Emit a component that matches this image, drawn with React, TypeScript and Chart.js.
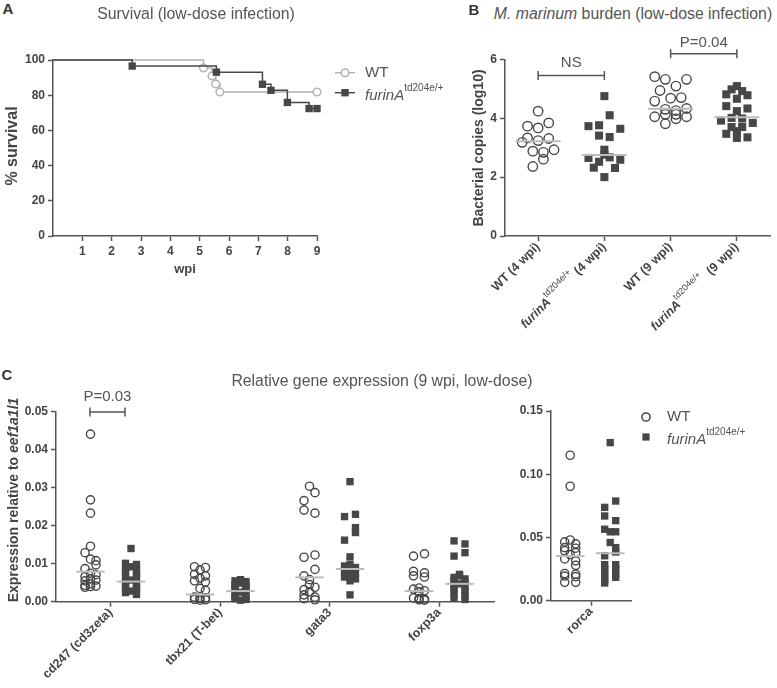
import React, { useEffect, useRef } from 'react';
import { Chart, registerables } from 'chart.js';
Chart.register(...registerables);

const FONT = '"Liberation Sans", Arial, Helvetica, sans-serif';
Chart.defaults.font.family = FONT;
Chart.defaults.color = '#444';

const INK = '#474747';
const AXIS_C = '#555555';
const WT_LINE = '#b3b3b3';
const MEDIAN_C = '#bcbcbc';
const TEXT_C = '#444444';
const SOFT_TEXT = '#555555';

// ---------------- Panel A: survival ----------------
const survivalWeekTicks = [1, 2, 3, 4, 5, 6, 7, 8, 9];
const wtWeeks = [0, 5.13, 5.42, 5.55, 5.69, 9.0];
const wtSurvival = [100, 95.45, 90.91, 86.36, 81.82, 81.82];
const furinWeeks = [0, 2.7, 5.57, 7.14, 7.43, 7.99, 8.73, 9.0];
const furinSurvival = [100, 96.55, 93.1, 86.21, 82.76, 75.86, 72.41, 72.41];

// ---------------- Panel B: bacterial burden ----------------
const burdenCategories = ['WT (4 wpi)', '_furinA_^{td204e/+} (4 wpi)', 'WT (9 wpi)', '_furinA_^{td204e/+}  (9 wpi)'];
const wt4wpi = [4.24, 3.73, 3.67, 3.84, 3.33, 3.24, 3.31, 3.18, 2.88, 2.93, 2.84, 2.61, 2.36];
const wt4wpiLanes = [0, -2, 0, 2, -2, 0, 2, -3, -1, 3, 1, 1, -1];
const furin4wpi = [4.75, 4.1, 3.73, 3.76, 3.64, 3.41, 3.36, 2.93, 2.76, 2.65, 2.52, 2.67, 2.59, 2.32, 2.31, 2.0];
const furin4wpiLanes = [0, 1, -3, -1, 3, -1, 1, 0, 0, -3, -1, 1, 3, -2, 2, 0];
const wt9wpi = [5.41, 5.32, 5.32, 4.94, 5.09, 4.58, 4.68, 4.7, 4.3, 4.26, 4.33, 4.05, 4.13, 4.13, 3.98, 4.05, 3.81];
const wt9wpiLanes = [-3, -1, 3, -2, 1, -3, 0, 2, -1, 1, 3, -3, -1, 1, 1, 3, -1];
const furin9wpi = [5.09, 4.98, 4.92, 4.81, 4.78, 4.66, 4.41, 4.24, 4.33, 4.01, 3.92, 3.99, 3.84, 3.7, 3.7, 3.56, 3.47, 3.35, 3.33];
const furin9wpiLanes = [0, -1, 1, -2, 2, 0, -2, 0, 2, -1, -3, 1, 3, -1, 1, 0, -2, 2, 0];
const burdenMedians = [3.22, 2.75, 4.32, 4.03];
const burdenBrackets = [
  { from: 0, to: 1, y: 5.45, label: 'NS', dy: 13 },
  { from: 2, to: 3, y: 6.19, label: 'P=0.04', dy: 11 },
];

// ---------------- Panel C: gene expression ----------------
const geneCategories = ['cd247 (cd3zeta)', 'tbx21 (T-bet)', 'gata3', 'foxp3a'];
const cd247WT = [0.0441, 0.0268, 0.0233, 0.0146, 0.0129, 0.0112, 0.0108, 0.0097, 0.0087, 0.0075, 0.0071, 0.0066, 0.006, 0.0057, 0.0055, 0.0047, 0.0043, 0.0041, 0.004, 0.0038];
const cd247WTLanes = [0, 0, 0, 0, -1, 0, 1, 1, -1, 0, 1, -1, 0, 1, -1, 0, -1, 1, 0, -1];
const cd247Furin = [0.014, 0.0101, 0.0098, 0.0092, 0.0088, 0.0082, 0.0077, 0.0072, 0.0066, 0.0062, 0.0057, 0.0053, 0.0049, 0.0045, 0.0041, 0.0036, 0.0032, 0.0028, 0.0024, 0.0019];
const cd247FurinLanes = [0, -1, 1, 0, -1, 1, -1, 1, -1, 1, 0, -1, 1, -1, 1, -1, 1, 0, -1, 1];
const tbx21WT = [0.0092, 0.009, 0.0084, 0.0072, 0.0068, 0.0062, 0.0055, 0.0052, 0.0035, 0.003, 0.0012, 0.001, 0.0009, 0.0006, 0.0005, 0.0004];
const tbx21WTLanes = [-1, 1, 0, -1, 1, 0, -1, 1, 0, 1, -1, 1, 0, -1, 1, 0];
const tbx21Furin = [0.0058, 0.0055, 0.0053, 0.0049, 0.0046, 0.0043, 0.004, 0.0037, 0.0034, 0.0031, 0.0025, 0.0018, 0.0015, 0.0012, 0.001, 0.0008, 0.0006, 0.0004];
const tbx21FurinLanes = [0, -1, 1, 0, -1, 1, -1, 1, -1, 1, 0, -1, 1, -1, 1, -1, 1, 0];
const gata3WT = [0.0304, 0.0287, 0.0266, 0.0241, 0.0233, 0.0123, 0.0117, 0.0085, 0.0068, 0.0058, 0.0045, 0.0038, 0.0032, 0.0026, 0.0018, 0.0012, 0.0008, 0.0005];
const gata3WTLanes = [0, 1, -1, -1, 1, 1, -1, 1, -1, 0, 0, 1, -1, 0, -1, 1, -1, 1];
const gata3Furin = [0.0316, 0.023, 0.0224, 0.0195, 0.0182, 0.0162, 0.0118, 0.0098, 0.0094, 0.009, 0.0086, 0.008, 0.0075, 0.007, 0.0065, 0.006, 0.0055, 0.0018];
const gata3FurinLanes = [0, 1, -1, 1, 1, -1, 0, 0, -1, 1, 0, -1, 1, 0, -1, 1, 0, 0];
const foxp3aWT = [0.0126, 0.012, 0.008, 0.0076, 0.0068, 0.0065, 0.0036, 0.0033, 0.0029, 0.0026, 0.001, 0.0008, 0.0007, 0.0005, 0.0004];
const foxp3aWTLanes = [1, -1, -1, 1, -1, 1, 0, -1, 1, 0, -1, 0, 1, 0, 1];
const foxp3aFurin = [0.016, 0.0152, 0.0129, 0.012, 0.0072, 0.0068, 0.0064, 0.006, 0.0056, 0.0051, 0.0047, 0.0043, 0.0038, 0.0033, 0.0028, 0.0022, 0.0016, 0.001, 0.0006];
const foxp3aFurinLanes = [-1, 1, 1, -1, 0, 0, -1, 1, -1, 1, 0, -1, 1, -1, 1, -1, 1, -1, 1];
const geneWTMedians = [0.0079, 0.0019, 0.0064, 0.0028];
const geneFurinMedians = [0.0053, 0.0028, 0.0086, 0.0047];
const geneBracket = { from: -0.19, to: 0.13, y: 0.0499, label: 'P=0.03', dy: 15 };

const rorcaCategories = ['rorca'];
const rorcaWT = [0.115, 0.0905, 0.048, 0.0465, 0.045, 0.042, 0.0415, 0.0395, 0.038, 0.0365, 0.033, 0.0315, 0.028, 0.0215, 0.021, 0.0195, 0.019, 0.0145, 0.0145];
const rorcaWTLanes = [0, 0, 0, -1, 1, -1, 1, -1, 1, 0, -1, 1, 1, -1, 1, -1, 1, -1, 1];
const rorcaFurin = [0.125, 0.0788, 0.0738, 0.067, 0.0633, 0.0565, 0.0545, 0.0545, 0.046, 0.042, 0.0385, 0.0355, 0.0285, 0.0285, 0.0255, 0.025, 0.0225, 0.0215, 0.0195, 0.0185, 0.0165, 0.014];
const rorcaFurinLanes = [0, 1, -1, -1, 1, -1, 0, 1, 0, 1, 1, -1, -1, 1, -1, 1, -1, 1, -1, 1, -1, -1];
const rorcaWTMedian = 0.0353;
const rorcaFurinMedian = 0.0375;

const legendLabels = ['WT', '_furinA_^{td204e/+}'];

// ---------------- rich text helpers ----------------
type Seg = { t: string; i?: boolean; sup?: boolean };
function parseRich(s: string): Seg[] {
  const segs: Seg[] = [];
  const re = /_([^_]+)_|\^\{([^}]+)\}|([^_^]+)/g;
  let m: RegExpExecArray | null;
  while ((m = re.exec(s))) {
    if (m[1]) segs.push({ t: m[1], i: true });
    else if (m[2]) segs.push({ t: m[2], sup: true });
    else segs.push({ t: m[3] });
  }
  return segs;
}
function drawRich(ctx: CanvasRenderingContext2D, s: string, x: number, y: number, size: number, weight: string, align: string, color: string) {
  const segs = parseRich(s);
  const fontOf = (g: Seg) => `${g.i ? 'italic ' : ''}${g.sup ? 'normal' : weight} ${g.sup ? Math.round(size * 0.68) : size}px ${FONT}`;
  let total = 0;
  const widths = segs.map((g) => { ctx.font = fontOf(g); const w = ctx.measureText(g.t).width; total += w; return w; });
  let cx = align === 'right' ? x - total : align === 'center' ? x - total / 2 : x;
  ctx.fillStyle = color;
  ctx.textAlign = 'left';
  ctx.textBaseline = 'middle';
  segs.forEach((g, k) => {
    ctx.font = fontOf(g);
    ctx.fillText(g.t, cx, g.sup ? y - size * 0.5 : y);
    cx += widths[k];
  });
}

type LegendItem = { x: number; y: number; kind: string; line: boolean; stroke: string; fill: string; r: number; label: string; tx: number; ty: number };
type Note = { x: number; y: number; dy: number; text: string };

function decor(opts: { xLabels?: string[]; xLabelDy?: number; notes?: Note[]; legend?: LegendItem[] }) {
  return {
    id: 'decor',
    afterDraw(chart: any) {
      const ctx = chart.ctx as CanvasRenderingContext2D;
      const xs = chart.scales.x;
      const ys = chart.scales.y;
      ctx.save();
      (opts.xLabels || []).forEach((lab, i) => {
        ctx.save();
        ctx.translate(xs.getPixelForValue(i), xs.top + (opts.xLabelDy ?? 10));
        ctx.rotate(-Math.PI / 4);
        drawRich(ctx, lab, 0, 0, 12.5, 'bold', 'right', TEXT_C);
        ctx.restore();
      });
      (opts.notes || []).forEach((n) => {
        drawRich(ctx, n.text, xs.getPixelForValue(n.x), ys.getPixelForValue(n.y) - n.dy, 15, 'normal', 'center', SOFT_TEXT);
      });
      (opts.legend || []).forEach((it) => {
        ctx.lineWidth = 1.5;
        ctx.strokeStyle = it.stroke;
        ctx.fillStyle = it.fill;
        if (it.line) {
          ctx.beginPath();
          ctx.moveTo(it.x - 10, it.y);
          ctx.lineTo(it.x + 10, it.y);
          ctx.stroke();
        }
        ctx.beginPath();
        if (it.kind === 'circle') ctx.arc(it.x, it.y, it.r, 0, Math.PI * 2);
        else ctx.rect(it.x - it.r, it.y - it.r, it.r * 2, it.r * 2);
        ctx.fill();
        if (it.kind === 'circle') ctx.stroke();
        drawRich(ctx, it.label, it.x + it.tx, it.y + it.ty, 15, 'normal', 'left', SOFT_TEXT);
      });
      ctx.restore();
    },
  };
}

// ---------------- scale helpers ----------------
const tickGrid = { display: true, drawOnChartArea: false, drawTicks: true, tickLength: 5, tickColor: AXIS_C, tickWidth: 1.5 };
const axisBorder = { display: true, color: AXIS_C, width: 1.5 };

function yAxis(min: number, max: number, step: number, width: number, digits: number) {
  return {
    type: 'linear', min, max,
    ticks: { stepSize: step, padding: 3, color: TEXT_C, font: { size: 12, weight: 'bold' }, callback: (v: any) => Number(v).toFixed(digits) },
    grid: tickGrid,
    border: axisBorder,
    afterFit: (s: any) => { s.width = width; },
  };
}
function xAxis(min: number, max: number, tickValues: number[], height: number, showLabels: boolean) {
  return {
    type: 'linear', min, max,
    afterBuildTicks: (s: any) => { s.ticks = tickValues.map((v) => ({ value: v })); },
    ticks: { display: showLabels, padding: 3, maxRotation: 0, autoSkip: false, color: TEXT_C, font: { size: 12, weight: 'bold' } },
    grid: tickGrid,
    border: axisBorder,
    afterFit: (s: any) => { s.height = height; },
  };
}
function baseOptions(padding: any) {
  return {
    responsive: false, maintainAspectRatio: false, animation: false, events: [],
    layout: { padding },
    plugins: { legend: { display: false }, tooltip: { enabled: false }, title: { display: false } },
  };
}

const circleStyle = (r: number) => ({ pointStyle: 'circle', pointRadius: r, pointBorderWidth: 1.4, pointBorderColor: INK, pointBackgroundColor: 'rgba(0,0,0,0)', borderColor: INK });
const squareStyle = (r: number) => ({ pointStyle: 'rect', pointRadius: r, pointBorderWidth: 0, pointBorderColor: INK, pointBackgroundColor: INK, borderColor: INK });

function scatterSet(values: number[], lanes: number[], center: number, step: number, style: any) {
  return { type: 'scatter', order: 1, clip: false, showLine: false, data: values.map((v, i) => ({ x: center + lanes[i] * step, y: v })), ...style };
}
function medianSet(center: number, half: number, value: number) {
  return { type: 'line', order: 0, clip: false, borderColor: MEDIAN_C, borderWidth: 2, pointRadius: 0, data: [{ x: center - half, y: value }, { x: center + half, y: value }] };
}
function bracketSet(from: number, to: number, y: number) {
  return {
    type: 'line', order: 0, clip: false, borderColor: AXIS_C, borderWidth: 1.5,
    pointStyle: 'line', pointRotation: 90, pointRadius: 4.5, pointBorderColor: AXIS_C, pointBorderWidth: 1.5,
    data: [{ x: from, y }, { x: to, y }],
  };
}

// ---------------- chart configs ----------------
function survivalConfig(): any {
  const toXY = (xs: number[], ys: number[]) => xs.map((x, i) => ({ x, y: ys[i] }));
  return {
    type: 'line',
    data: {
      datasets: [
        {
          data: toXY(furinWeeks, furinSurvival), stepped: true, clip: false,
          borderColor: INK, borderWidth: 1.5, pointStyle: 'rect',
          pointRadius: (c: any) => (c.dataIndex === 0 ? 0 : 5.2), pointBackgroundColor: INK, pointBorderColor: INK, pointBorderWidth: 0,
        },
        {
          data: toXY(wtWeeks, wtSurvival), stepped: true, clip: false,
          borderColor: WT_LINE, borderWidth: 1.5, pointStyle: 'circle',
          pointRadius: (c: any) => (c.dataIndex === 0 ? 0 : 3.8), pointBackgroundColor: '#ffffff', pointBorderColor: WT_LINE, pointBorderWidth: 1.5,
        },
      ],
    },
    options: {
      ...baseOptions({ top: 30, right: 153, bottom: 0, left: 0 }),
      scales: {
        x: xAxis(0, 9, survivalWeekTicks, 44, true),
        y: yAxis(0, 100, 20, 53, 0),
      },
    },
    plugins: [decor({
      legend: [
        { x: 345, y: 42.7, kind: 'circle', line: true, stroke: WT_LINE, fill: '#ffffff', r: 3.8, label: legendLabels[0], tx: 20, ty: 0 },
        { x: 345, y: 62.7, kind: 'rect', line: true, stroke: INK, fill: INK, r: 3.7, label: legendLabels[1], tx: 20, ty: 3 },
      ],
    })],
  };
}

function burdenConfig(): any {
  const step = 0.08;
  const datasets: any[] = [
    ...burdenMedians.map((m, i) => medianSet(i, 0.34, m)),
    ...burdenBrackets.map((b) => bracketSet(b.from, b.to, b.y)),
    scatterSet(wt4wpi, wt4wpiLanes, 0, step, circleStyle(4.7)),
    scatterSet(furin4wpi, furin4wpiLanes, 1, step, squareStyle(5.7)),
    scatterSet(wt9wpi, wt9wpiLanes, 2, step, circleStyle(4.7)),
    scatterSet(furin9wpi, furin9wpiLanes, 3, step, squareStyle(5.7)),
  ];
  return {
    type: 'scatter',
    data: { datasets },
    options: {
      ...baseOptions({ top: 29.3, right: 7, bottom: 0, left: 0 }),
      scales: {
        x: xAxis(-0.5, 3.5, burdenCategories.map((_, i) => i), 114, false),
        y: yAxis(0, 6, 2, 115, 0),
      },
    },
    plugins: [decor({
      xLabels: burdenCategories, xLabelDy: 9,
      notes: burdenBrackets.map((b) => ({ x: (b.from + b.to) / 2, y: b.y, dy: b.dy, text: b.label })),
    })],
  };
}

function geneConfig(): any {
  const step = 0.05;
  const off = 0.185;
  const wtGroups = [[cd247WT, cd247WTLanes], [tbx21WT, tbx21WTLanes], [gata3WT, gata3WTLanes], [foxp3aWT, foxp3aWTLanes]];
  const furinGroups = [[cd247Furin, cd247FurinLanes], [tbx21Furin, tbx21FurinLanes], [gata3Furin, gata3FurinLanes], [foxp3aFurin, foxp3aFurinLanes]];
  const datasets: any[] = [
    ...geneWTMedians.map((m, i) => medianSet(i - off, 0.13, m)),
    ...geneFurinMedians.map((m, i) => medianSet(i + off, 0.13, m)),
    bracketSet(geneBracket.from, geneBracket.to, geneBracket.y),
    ...wtGroups.map((g, i) => scatterSet(g[0], g[1], i - off, step, circleStyle(4.1))),
    ...furinGroups.map((g, i) => scatterSet(g[0], g[1], i + off, step, squareStyle(5.2))),
  ];
  return {
    type: 'scatter',
    data: { datasets },
    options: {
      ...baseOptions({ top: 31.7, right: 5, bottom: 0, left: 0 }),
      scales: {
        x: xAxis(-0.5, 3.5, geneCategories.map((_, i) => i), 86.3, false),
        y: yAxis(0, 0.05, 0.01, 56, 2),
      },
    },
    plugins: [decor({
      xLabels: geneCategories, xLabelDy: 9,
      notes: [{ x: (geneBracket.from + geneBracket.to) / 2, y: geneBracket.y, dy: geneBracket.dy, text: geneBracket.label }],
    })],
  };
}

function rorcaConfig(): any {
  const step = 0.069;
  const datasets: any[] = [
    medianSet(-0.26, 0.18, rorcaWTMedian),
    medianSet(0.24, 0.18, rorcaFurinMedian),
    scatterSet(rorcaWT, rorcaWTLanes, -0.26, step, circleStyle(4.1)),
    scatterSet(rorcaFurin, rorcaFurinLanes, 0.24, step, squareStyle(5.2)),
  ];
  return {
    type: 'scatter',
    data: { datasets },
    options: {
      ...baseOptions({ top: 31, right: 146, bottom: 0, left: 0 }),
      scales: {
        x: xAxis(-0.5, 0.5, rorcaCategories.map((_, i) => i), 87.3, false),
        y: yAxis(0, 0.15, 0.05, 51, 2),
      },
    },
    plugins: [decor({
      xLabels: rorcaCategories, xLabelDy: 9,
      legend: [
        { x: 146, y: 37, kind: 'circle', line: false, stroke: INK, fill: 'rgba(0,0,0,0)', r: 4.1, label: legendLabels[0], tx: 21, ty: 0 },
        { x: 146, y: 57, kind: 'rect', line: false, stroke: INK, fill: INK, r: 3.6, label: legendLabels[1], tx: 21, ty: 3 },
      ],
    })],
  };
}

// ---------------- components ----------------
function ChartCanvas({ left, top, width, height, make }: { left: number; top: number; width: number; height: number; make: () => any }) {
  const ref = useRef<HTMLCanvasElement>(null);
  useEffect(() => {
    const chart = new Chart(ref.current as HTMLCanvasElement, make());
    return () => chart.destroy();
  }, []);
  return <canvas ref={ref} width={width} height={height} style={{ position: 'absolute', left, top, width, height, display: 'block' }} />;
}

function Label({ x, y, rotate = 0, style, children }: { x: number; y: number; rotate?: number; style?: any; children: any }) {
  return (
    <div style={{ position: 'absolute', left: x, top: y, transform: `translate(-50%, -50%) rotate(${rotate}deg)`, whiteSpace: 'nowrap', lineHeight: 1, ...style }}>
      {children}
    </div>
  );
}

export default function App() {
  const letter = { fontWeight: 'bold', fontSize: 15, color: '#333' };
  const title = { fontSize: 15.8, color: SOFT_TEXT };
  const axisTitle = { fontWeight: 'bold', fontSize: 14, color: TEXT_C };
  return (
    <div style={{ position: 'absolute', left: 0, top: 0, width: 777, height: 688, background: '#ffffff', fontFamily: FONT, overflow: 'hidden' }}>
      <ChartCanvas left={0} top={380} width={500} height={308} make={geneConfig} />
      <ChartCanvas left={500} top={380} width={277} height={308} make={rorcaConfig} />
      <ChartCanvas left={390} top={30} width={387} height={320} make={burdenConfig} />
      <ChartCanvas left={0} top={30} width={470} height={250} make={survivalConfig} />

      <Label x={8} y={8} style={letter}>A</Label>
      <Label x={196} y={14} style={title}>Survival (low-dose infection)</Label>
      <Label x={12} y={146} rotate={-90} style={{ ...axisTitle, fontSize: 16 }}>% survival</Label>
      <Label x={185} y={268} style={{ ...axisTitle, fontSize: 13 }}>wpi</Label>

      <Label x={474} y={9} style={letter}>B</Label>
      <Label x={633} y={14} style={title}><i>M. marinum</i> burden (low-dose infection)</Label>
      <Label x={478} y={148} rotate={-90} style={axisTitle}>Bacterial copies (log10)</Label>

      <Label x={7} y={374} style={letter}>C</Label>
      <Label x={382} y={381} style={title}>Relative gene expression (9 wpi, low-dose)</Label>
      <Label x={13} y={500} rotate={-90} style={axisTitle}>Expression relative to <i>eef1a1l1</i></Label>
    </div>
  );
}
